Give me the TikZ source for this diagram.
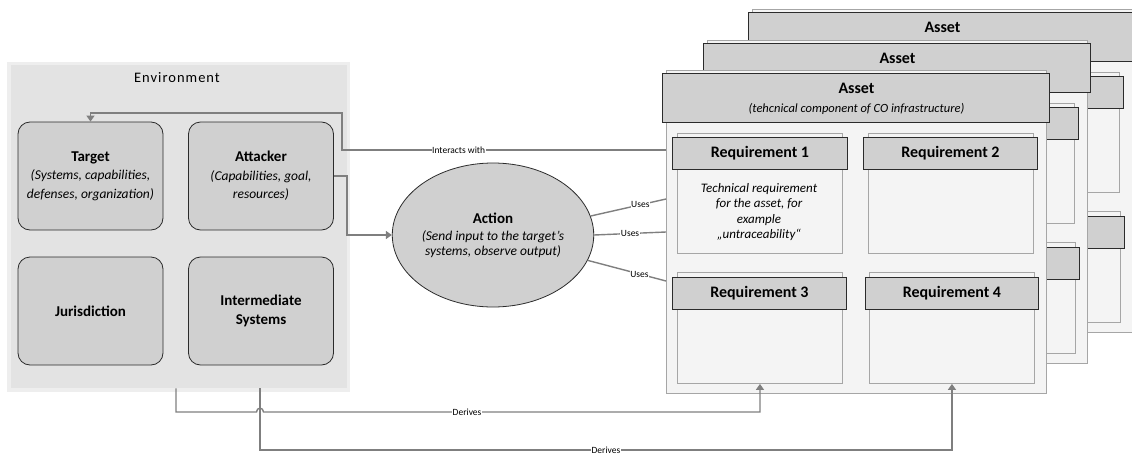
\documentclass[tikz,border=0pt]{standalone}
\usepackage{fontspec}
\setmainfont{Carlito}
\newfontfamily\spacedfont[LetterSpace=7]{Carlito}
\usetikzlibrary{arrows.meta,shapes.geometric}

\definecolor{envfill}{HTML}{E3E3E3}
\definecolor{envglow}{HTML}{EEEEEE}
\definecolor{boxfill}{HTML}{D0D0D0}
\definecolor{boxline}{HTML}{2B2B2B}
\definecolor{panelfill}{HTML}{F4F4F4}
\definecolor{panelline}{HTML}{A6A6A6}
\definecolor{connc}{HTML}{7F7F7F}

\tikzset{
  envbox/.style={draw=boxline, fill=boxfill, line width=0.8pt, rounded corners=12pt,
    minimum width=145pt, minimum height=108pt, align=center, inner sep=2pt,
    font=\fontsize{13.5}{18.5}\selectfont},
  panelbox/.style={draw=panelline, fill=panelfill, line width=0.9pt, inner sep=0pt, anchor=north west},
  hdrbox/.style={draw=boxline, fill=boxfill, line width=0.9pt, inner sep=0pt, anchor=north west,
    font=\bfseries\fontsize{16}{19}\selectfont},
  conn/.style={draw=connc, line width=1.4pt},
  arr/.style={-{Triangle[width=8pt,length=6pt]}},
  lbl/.style={fill=white, inner sep=0.6pt, text=black, font=\fontsize{9.5}{11}\selectfont},
  % one asset card; argument 1 = front card (all texts), 0 = card lying behind
  pics/assetlayer/.style={code={
    \node[panelbox, minimum width=380pt, minimum height=323pt] (-panel) at (0,0) {};
    \node[hdrbox, minimum width=387pt, minimum height=49pt] (-head) at (-4,3) {};
    \node[font=\bfseries\fontsize{16}{19}\selectfont] (-title) at (190.5,18) {Asset};
    \node[panelbox, minimum width=165pt, minimum height=120pt] (-r1panel) at (11,63) {};
    \node[hdrbox, minimum width=175pt, minimum height=32pt] (-r1head) at (6,67) {};
    \node[panelbox, minimum width=165pt, minimum height=120pt] (-r2panel) at (202,63) {};
    \node[hdrbox, minimum width=174pt, minimum height=32pt] (-r2head) at (197,67) {Requirement 2};
    \node[panelbox, minimum width=165pt, minimum height=111pt] (-r3panel) at (11,202) {};
    \node[hdrbox, minimum width=174pt, minimum height=32pt] (-r3head) at (6,207) {};
    \node[panelbox, minimum width=165pt, minimum height=111pt] (-r4panel) at (203,202) {};
    \node[hdrbox, minimum width=173pt, minimum height=32pt] (-r4head) at (199,207) {Requirement 4};
    \ifnum#1=1
      \node[font=\itshape\fontsize{12.5}{15}\selectfont] (-sub) at (190.5,39)
        {(tehcnical component of CO infrastructure)};
      \node[font=\bfseries\fontsize{16}{19}\selectfont] (-r1label) at (-r1head) {Requirement 1};
      \node[font=\bfseries\fontsize{16}{19}\selectfont] (-r3label) at (-r3head) {Requirement 3};
    \fi
  }}
}

\begin{document}
\begin{tikzpicture}[x=1pt, y=-1pt]
  \useasboundingbox (0,0) rectangle (1132,455);
  \clip (0,0) rectangle (1132,455);

  % stacked asset cards, back to front
  \pic (A2) at (752,9) {assetlayer=0};
  \pic (A1) at (707,40) {assetlayer=0};
  \pic (A0) at (666,70) {assetlayer=1};
  \node[align=center, font=\itshape\fontsize{13}{15.5}\selectfont] (req1text) at (759,212)
    {Technical requirement\\for the asset, for\\example\\„untraceability“};

  % environment panel
  \fill[envglow] (7,62) rectangle (350,392);
  \node[fill=envfill, inner sep=0pt, minimum width=336pt, minimum height=323pt, anchor=north west]
    (env) at (11,65) {};
  \node[font=\spacedfont\fontsize{14.5}{17}\selectfont] (envtitle) at (177,78) {Environment};

  \node[envbox] (target) at (90.5,176)
    {\textbf{\fontsize{15}{18.5}\selectfont Target}\\\textit{(Systems, capabilities,}\\\textit{defenses, organization)}};
  \node[envbox] (attacker) at (261,176)
    {\textbf{\fontsize{15}{18.5}\selectfont Attacker}\\\textit{(Capabilities, goal,}\\\textit{resources)}};
  \node[envbox, font=\bfseries\fontsize{15}{18.5}\selectfont] (juris) at (90.5,311) {Jurisdiction};
  \node[envbox, font=\bfseries\fontsize{15}{18.5}\selectfont] (inter) at (261,311) {Intermediate\\Systems};

  % action
  \node[ellipse, draw=boxline, fill=boxfill, line width=0.8pt, minimum width=192pt, minimum height=144pt,
    align=center, inner sep=0pt, font=\itshape\fontsize{13.5}{14.5}\selectfont] (action) at (493,235)
    {\textbf{\textup{\fontsize{15}{18}\selectfont Action}}\\[3pt](Send input to the target’s\\systems, observe output)};

  % connectors
  \draw[conn, arr] (A0-panel.west |- 0,150) -- node[lbl, pos=0.64] {Interacts with} (342,150)
    -- (342,113) -| (target.north);
  \draw[conn, arr] (attacker.east) -- (347,176) |- (action.west);

  \draw[conn] (action.11) -- node[lbl, pos=0.66] {Uses} (A0-panel.west |- 0,199);
  \draw[conn] (action.east) -- node[lbl, pos=0.5] {Uses} (A0-panel.west |- 0,232);
  \draw[conn] (action.-15) -- node[lbl, pos=0.66] {Uses} (A0-panel.west |- 0,281);

  \draw[conn, arr] (env.south -| 176,0) -- (176,412) -- (256.5,412)
    .. controls (256.5,407) and (263.5,407) .. (263.5,412)
    -- node[lbl, pos=0.41] {Derives} (A0-r3panel.south |- 0,412) -- (A0-r3panel.south);
  \draw[conn, arr] (env.south -| 260,0) -- (260,450)
    -- node[lbl, pos=0.5] {Derives} (A0-r4panel.south |- 0,450) -- (A0-r4panel.south);
\end{tikzpicture}
\end{document}
